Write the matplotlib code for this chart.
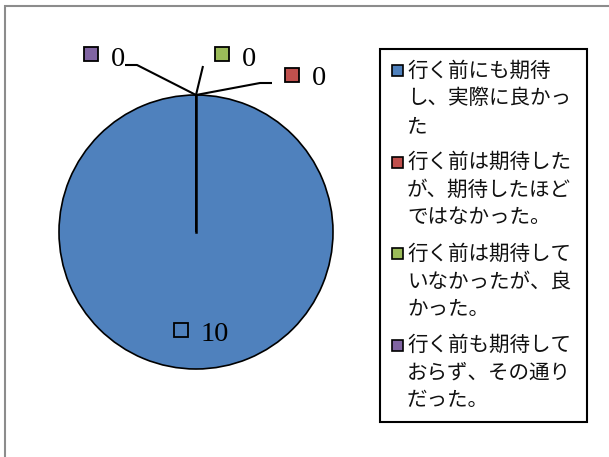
import numpy as np
import matplotlib
matplotlib.use("Agg")
import matplotlib.pyplot as plt
from matplotlib.patches import Rectangle

# ---- data ----
categories = [
    "行く前にも期待し、実際に良かった",
    "行く前は期待したが、期待したほどではなかった。",
    "行く前は期待していなかったが、良かった。",
    "行く前も期待しておらず、その通りだった。",
]
legend_lines = [
    ["行く前にも期待", "し、実際に良かっ", "た"],
    ["行く前は期待した", "が、期待したほど", "ではなかった。"],
    ["行く前は期待して", "いなかったが、良", "かった。"],
    ["行く前も期待して", "おらず、その通り", "だった。"],
]
values = [10, 0, 0, 0]
colors = ["#4F81BD", "#C0504D", "#9BBB59", "#8064A2"]

W, H = 609, 457
fig = plt.figure(figsize=(W / 100, H / 100), dpi=100)

def fx(px):
    return px / W

def fy(py):
    return 1 - py / H

# outer chart frame
fig.patches.append(Rectangle((fx(5), fy(6) - 2), 2, 2, transform=fig.transFigure,
                             fill=False, edgecolor="#8c8c8c", linewidth=1.5))

R = 137.0   # pixels per unit
CX, CY = 196.0, 232.0
AXW = 380
ax = fig.add_axes([0, 0, AXW / W, 1])
wedges, _ = ax.pie(values, colors=colors, startangle=90, counterclock=False,
                   radius=1, center=(0, 0),
                   wedgeprops=dict(edgecolor="black", linewidth=1.2))
ax.set_xlim(-CX / R, (AXW - CX) / R)
ax.set_ylim(-(H - CY) / R, CY / R)
ax.set_aspect("auto")
ax.axis("off")

def d(px, py):
    return ((px - CX) / R, (CY - py) / R)

# slice boundary lines (full-circle wedge draws no radius)
total = sum(values)
cum = np.concatenate([[0], np.cumsum(values)])
for c in cum[:1]:
    ang = np.deg2rad(90 - 360 * c / total)
    ax.plot([0, np.cos(ang)], [0, np.sin(ang)], color="black", lw=1.8, zorder=3)

# data labels
num_font = dict(family="Liberation Serif", fontsize=20.5)
# label layout (pixel positions): square centre, text left, baseline, leader path
label_layout = {
    0: dict(sq=(180.5, 329.5), tx=201, base=341, leader=None),
    1: dict(sq=(292, 75), tx=312, base=85, leader=[(260, 83), (272, 83)]),
    2: dict(sq=(222, 54), tx=242, base=66, leader=[(203, 66)]),
    3: dict(sq=(91, 54), tx=111, base=66.5, leader=[(137, 65), (125, 65)]),
}
for i, v in enumerate(values):
    lay = label_layout[i]
    mid = cum[i] + v / 2
    ang = np.deg2rad(90 - 360 * mid / total)
    if lay["leader"] is not None:
        anchor = (np.cos(ang), np.sin(ang))
        pts = [anchor] + [d(*p) for p in lay["leader"]]
        ax.plot([p[0] for p in pts], [p[1] for p in pts], color="black", lw=1.5,
                zorder=4, solid_capstyle="butt")
    sx, sy = d(*lay["sq"])
    ax.plot([sx], [sy], marker="s", markersize=10.5, markerfacecolor=colors[i],
            markeredgecolor="black", markeredgewidth=1.3, zorder=5)
    tx, ty = d(lay["tx"], lay["base"])
    ax.text(tx, ty, f"{v}", ha="left", va="baseline", zorder=5, **num_font)

# legend (manual, Excel style)
fig.patches.append(Rectangle((fx(380), fy(422)), fx(587) - fx(380), fy(49) - fy(422),
                             transform=fig.transFigure, fill=False,
                             edgecolor="black", linewidth=1.5))
jp = ["Noto Sans CJK JP", "DejaVu Sans"]
entry_y0, entry_step, line_step = 70.5, 91.6, 27.6
for i, lines in enumerate(legend_lines):
    y0 = entry_y0 + i * entry_step
    s = 11
    fig.patches.append(Rectangle((fx(392), fy(y0 + s / 2)), s / W, s / H,
                                 transform=fig.transFigure, facecolor=colors[i],
                                 edgecolor="black", linewidth=1.2))
    for j, line in enumerate(lines):
        fig.text(fx(407), fy(y0 + j * line_step), line, family=jp, fontsize=14.8,
                 ha="left", va="center", color="#111111")

fig.savefig("out.png", dpi=100)
